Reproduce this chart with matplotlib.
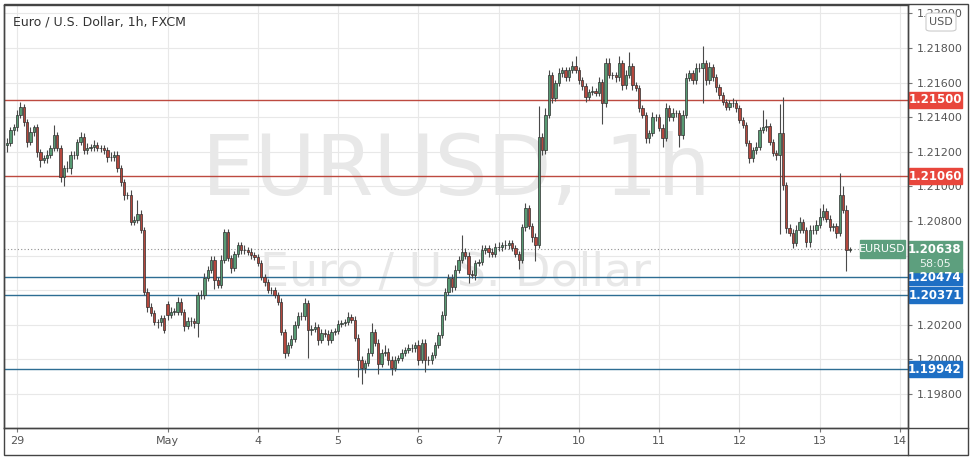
"""
EUR/USD 1h chart (FXCM) in TradingView style with support/resistance levels.
"""

import matplotlib
matplotlib.use("Agg")
import matplotlib.pyplot as plt
import numpy as np
from matplotlib import font_manager
from matplotlib.patches import Rectangle, FancyBboxPatch
from matplotlib.lines import Line2D
from matplotlib.transforms import blended_transform_factory

# ---------------------------------------------------------------- data
PIP = 0.0001
first_open = 1.21239
session_opens = {48: 1.20320}   # weekend gap open

# hourly closes, 10 per row
closes = [
    1.21251, 1.21326, 1.21343, 1.21413, 1.21459, 1.21372, 1.21257, 1.21314, 1.21343, 1.21199,
    1.21153, 1.21164, 1.21182, 1.21222, 1.21297, 1.21222, 1.21054, 1.21106, 1.21104, 1.21182,
    1.21180, 1.21257, 1.21286, 1.21210, 1.21222, 1.21225, 1.21239, 1.21222, 1.21220, 1.21210,
    1.21170, 1.21168, 1.21182, 1.21106, 1.21025, 1.20950, 1.20948, 1.20794, 1.20806, 1.20841,
    1.20748, 1.20390, 1.20303, 1.20268, 1.20216, 1.20214, 1.20239, 1.20170, 1.20257, 1.20274,
    1.20276, 1.20332, 1.20274, 1.20193, 1.20222, 1.20220, 1.20210, 1.20372, 1.20370, 1.20471,
    1.20517, 1.20575, 1.20459, 1.20430, 1.20575, 1.20736, 1.20586, 1.20528, 1.20609, 1.20661,
    1.20632, 1.20630, 1.20621, 1.20603, 1.20592, 1.20557, 1.20476, 1.20447, 1.20401, 1.20399,
    1.20372, 1.20332, 1.20158, 1.20037, 1.20083, 1.20118, 1.20199, 1.20251, 1.20249, 1.20326,
    1.20170, 1.20176, 1.20187, 1.20112, 1.20153, 1.20147, 1.20112, 1.20158, 1.20164, 1.20205,
    1.20210, 1.20216, 1.20245, 1.20228, 1.20124, 1.19997, 1.19950, 1.19979, 1.20037, 1.20158,
    1.20095, 1.19974, 1.20037, 1.20043, 1.19997, 1.19950, 1.19997, 1.20008, 1.20037, 1.20054,
    1.20066, 1.20064, 1.20083, 1.19997, 1.20095, 1.19997, 1.19995, 1.20025, 1.20083, 1.20141,
    1.20257, 1.20390, 1.20471, 1.20419, 1.20517, 1.20575, 1.20621, 1.20598, 1.20494, 1.20488,
    1.20557, 1.20563, 1.20632, 1.20644, 1.20621, 1.20609, 1.20650, 1.20648, 1.20661, 1.20659,
    1.20673, 1.20644, 1.20609, 1.20575, 1.20765, 1.20875, 1.20771, 1.20708, 1.20661, 1.21286,
    1.21210, 1.21413, 1.21644, 1.21511, 1.21598, 1.21655, 1.21673, 1.21632, 1.21673, 1.21696,
    1.21673, 1.21615, 1.21580, 1.21517, 1.21546, 1.21551, 1.21540, 1.21603, 1.21482, 1.21713,
    1.21644, 1.21642, 1.21632, 1.21713, 1.21586, 1.21644, 1.21696, 1.21586, 1.21569, 1.21453,
    1.21413, 1.21280, 1.21309, 1.21401, 1.21399, 1.21338, 1.21280, 1.21453, 1.21401, 1.21424,
    1.21422, 1.21297, 1.21413, 1.21627, 1.21655, 1.21615, 1.21684, 1.21682, 1.21713, 1.21615,
    1.21690, 1.21632, 1.21575, 1.21528, 1.21488, 1.21459, 1.21482, 1.21480, 1.21453, 1.21384,
    1.21355, 1.21251, 1.21164, 1.21210, 1.21228, 1.21326, 1.21343, 1.21349, 1.21257, 1.21193,
    1.21182, 1.21309, 1.21008, 1.20760, 1.20731, 1.20673, 1.20748, 1.20794, 1.20748, 1.20679,
    1.20748, 1.20746, 1.20777, 1.20823, 1.20858, 1.20812, 1.20765, 1.20771, 1.20731, 1.20950,
    1.20864, 1.20632, 1.20638,
]

# wick lengths above / below the body, in pips
upper_wick = [
    3, 2, 2, 3, 3, 2, 2, 3, 1, 2,
    2, 2, 3, 2, 6, 2, 2, 2, 4, 2,
    2, 2, 3, 2, 3, 2, 3, 2, 2, 2,
    2, 3, 2, 2, 2, 2, 2, 3, 2, 8,
    2, 2, 2, 2, 2, 2, 2, 2, 2, 3,
    2, 3, 2, 2, 2, 2, 2, 2, 3, 3,
    2, 2, 2, 2, 3, 2, 2, 2, 2, 2,
    2, 3, 2, 2, 2, 2, 2, 2, 2, 2,
    2, 2, 2, 2, 2, 2, 2, 2, 2, 3,
    2, 2, 3, 2, 2, 2, 2, 2, 2, 2,
    2, 2, 3, 2, 2, 2, 2, 2, 3, 5,
    2, 2, 2, 4, 2, 2, 2, 2, 2, 2,
    2, 2, 2, 3, 2, 2, 2, 2, 2, 2,
    2, 2, 2, 2, 3, 2, 10, 2, 2, 2,
    2, 2, 3, 2, 2, 2, 2, 3, 2, 3,
    2, 2, 2, 2, 2, 3, 2, 2, 2, 18,
    2, 4, 3, 2, 2, 3, 2, 2, 2, 3,
    6, 2, 2, 2, 2, 3, 2, 3, 2, 3,
    3, 2, 2, 4, 2, 3, 8, 2, 2, 2,
    2, 2, 2, 3, 2, 2, 2, 3, 2, 3,
    2, 2, 3, 3, 2, 2, 3, 3, 10, 2,
    3, 2, 2, 2, 2, 2, 2, 3, 2, 2,
    2, 2, 2, 2, 3, 2, 10, 4, 2, 2,
    2, 17, 21, 2, 2, 2, 3, 3, 2, 2,
    3, 3, 3, 5, 4, 2, 2, 2, 2, 13,
    5, 3, 1,
]
lower_wick = [
    4, 2, 3, 2, 2, 2, 3, 2, 2, 3,
    4, 2, 3, 2, 2, 2, 3, 5, 2, 3,
    2, 2, 2, 2, 2, 2, 2, 2, 2, 2,
    3, 2, 2, 2, 2, 3, 2, 2, 2, 2,
    2, 2, 3, 2, 2, 3, 2, 2, 3, 2,
    2, 2, 2, 3, 2, 3, 3, 8, 2, 2,
    2, 2, 5, 2, 2, 2, 2, 3, 2, 2,
    2, 2, 2, 2, 2, 2, 2, 2, 2, 2,
    2, 2, 2, 3, 2, 2, 2, 2, 2, 2,
    16, 3, 2, 3, 2, 2, 3, 2, 2, 2,
    2, 2, 2, 2, 2, 10, 9, 3, 2, 2,
    2, 6, 2, 2, 3, 4, 2, 2, 2, 2,
    2, 2, 2, 3, 2, 7, 3, 2, 2, 2,
    2, 3, 2, 3, 2, 2, 2, 2, 5, 2,
    3, 2, 2, 2, 3, 2, 2, 2, 2, 2,
    2, 2, 2, 5, 2, 2, 2, 3, 9, 2,
    3, 2, 2, 3, 2, 2, 2, 2, 2, 2,
    2, 2, 2, 3, 2, 2, 2, 2, 12, 2,
    2, 2, 3, 2, 3, 2, 2, 3, 2, 2,
    2, 3, 3, 2, 2, 2, 5, 2, 2, 2,
    2, 7, 2, 2, 2, 2, 2, 2, 20, 3,
    2, 2, 3, 2, 2, 2, 2, 2, 2, 2,
    2, 2, 3, 2, 2, 2, 2, 2, 2, 2,
    3, 46, 3, 3, 2, 3, 2, 2, 2, 3,
    3, 2, 2, 2, 2, 2, 2, 2, 3, 2,
    2, 12, 1,
]

day_labels = ['29', 'May', '4', '5', '6', '7', '10', '11', '12', '13', '14']
day_start = [3, 48, 75, 99, 123, 147, 171, 195, 219, 243, 267]   # bar index

resistance = [1.21500, 1.21060]
support = [1.20474, 1.20371, 1.19942]
last_price = 1.20638
countdown = "58:05"
price_ticks = [1.198, 1.200, 1.202, 1.204, 1.206, 1.208, 1.210,
               1.212, 1.214, 1.216, 1.218, 1.220]
hidden_ticks = [1.204, 1.206]   # covered by the price tags

# ---------------------------------------------------------------- styles
UP, DOWN, EDGE, WICK = '#579a73', '#b4473d', '#2f2f2f', '#4a4a4a'
RED_LINE, BLUE_LINE = '#bd4a40', '#2d6d93'
RED_TAG, BLUE_TAG, GREEN_TAG = '#e8463c', '#1e6fc4', '#5d9f7e'
FRAME, TEXT = '#444444', '#555555'

names = {f.name for f in font_manager.fontManager.ttflist}
UI_FONT = 'Liberation Sans Narrow' if 'Liberation Sans Narrow' in names else 'DejaVu Sans'
plt.rcParams['font.family'] = [UI_FONT, 'DejaVu Sans']

# ---------------------------------------------------------------- ohlc
closes = np.array(closes)
opens = np.concatenate([[first_open], closes[:-1]])
for i, o in session_opens.items():
    opens[i] = o
highs = np.maximum(opens, closes) + np.array(upper_wick) * PIP
lows = np.minimum(opens, closes) - np.array(lower_wick) * PIP
idx = np.arange(len(closes))

# ---------------------------------------------------------------- figure
W, H = 973, 459
fig = plt.figure(figsize=(W / 100, H / 100), dpi=100)
fig.patch.set_facecolor('white')
ax = fig.add_axes([4 / W, 31 / H, 904 / W, 423 / H])
ax.set_xlim(-0.9, 269.4)
ax.set_ylim(1.19603, 1.22049)

# grid and ticks
ax.set_yticks(price_ticks)
ax.set_yticklabels(['' if any(abs(t - h) < 1e-9 for h in hidden_ticks) else f'{t:.5f}'
                    for t in price_ticks])
ax.set_xticks(day_start)
ax.set_xticklabels(day_labels)
ax.grid(True, color='#e8e8e8', lw=0.8, zorder=0)
ax.set_axisbelow(True)
ax.yaxis.tick_right()
ax.tick_params(axis='y', length=3, color='#777', labelcolor=TEXT, labelsize=8, pad=3)
ax.tick_params(axis='x', length=3, color='#777', labelcolor=TEXT, labelsize=8, pad=3)
for s in ax.spines.values():
    s.set_color(FRAME)
    s.set_linewidth(1)

# watermark
ax.text(0.5, 0.607, 'EURUSD, 1h', transform=ax.transAxes, ha='center', va='center',
        fontsize=60, color='#e8e8e8', zorder=0.5)
ax.text(0.5, 0.366, 'Euro / U.S. Dollar', transform=ax.transAxes, ha='center', va='center',
        fontsize=33, color='#e8e8e8', zorder=0.5)

# levels
for lv in resistance:
    ax.axhline(lv, color=RED_LINE, lw=1, zorder=2)
for lv in support:
    ax.axhline(lv, color=BLUE_LINE, lw=1, zorder=2)
ax.axhline(last_price, color='#909090', lw=0.8, ls=(0, (1, 2)), zorder=2)

# candles
colors = np.where(closes >= opens, UP, DOWN)
ax.vlines(idx, lows, highs, color=WICK, lw=0.8, zorder=3)
body = np.maximum(np.abs(closes - opens), 0.00003)
ax.bar(idx, body, bottom=np.minimum(opens, closes), width=0.7, color=colors,
       edgecolor=EDGE, linewidth=0.5, zorder=4)

# price tags on the right axis
px = 1 / 904                                      # axes fraction per pixel (x)
dy = (ax.get_ylim()[1] - ax.get_ylim()[0]) / 423  # price per pixel (y)
mix = blended_transform_factory(ax.transAxes, ax.transData)


def tag(level, text, color, above=8, below=8, sub=None):
    ax.add_patch(Rectangle((1 + 1 * px, level - below * dy), 53 * px, (above + below) * dy,
                           transform=mix, color=color, clip_on=False, zorder=10))
    ax.text(1 + 27 * px, level, text, transform=mix, ha='center', va='center',
            color='white', fontsize=8.5, fontweight='bold', clip_on=False, zorder=11)
    if sub:
        ax.text(1 + 27 * px, level - 15 * dy, sub, transform=mix, ha='center', va='center',
                color='#eef5f0', fontsize=8, clip_on=False, zorder=11)


for lv in resistance:
    tag(lv, f'{lv:.5f}', RED_TAG)
for lv in support:
    tag(lv, f'{lv:.5f}', BLUE_TAG)
tag(last_price, f'{last_price:.5f}', GREEN_TAG, above=8, below=23, sub=countdown)

# symbol tag next to last price
ax.add_patch(Rectangle((1 - 48 * px, last_price - 9 * dy), 45 * px, 18 * dy, transform=mix,
                       color=GREEN_TAG, clip_on=False, zorder=10))
ax.text(1 - 25.5 * px, last_price, 'EURUSD', transform=mix, ha='center', va='center',
        color='white', fontsize=8, clip_on=False, zorder=11)

# currency badge
ax.add_patch(FancyBboxPatch((1 + 18 * px, 0.9385), 30 * px, 0.0425, transform=ax.transAxes,
                            boxstyle='round,pad=0,rounding_size=0.005', fc='white',
                            ec='#cccccc', lw=0.8, clip_on=False, zorder=10))
ax.text(1 + 33 * px, 0.96, 'USD', transform=ax.transAxes, ha='center', va='center',
        color=TEXT, fontsize=8, clip_on=False, zorder=11)

# title
fig.text(13 / W, 1 - 22 / H, 'Euro / U.S. Dollar, 1h, FXCM', ha='left', va='center',
         fontsize=9, color='#333333')

# outer frame
fig.add_artist(Rectangle((4 / W, 4 / H), 964 / W, 451 / H, transform=fig.transFigure,
                         fill=False, ec=FRAME, lw=1))
fig.add_artist(Line2D([4 / W, 968 / W], [31 / H, 31 / H], transform=fig.transFigure,
                      color=FRAME, lw=1))
fig.add_artist(Line2D([908 / W, 908 / W], [4 / H, 454 / H], transform=fig.transFigure,
                      color=FRAME, lw=1))

fig.savefig('out.png', dpi=100)
